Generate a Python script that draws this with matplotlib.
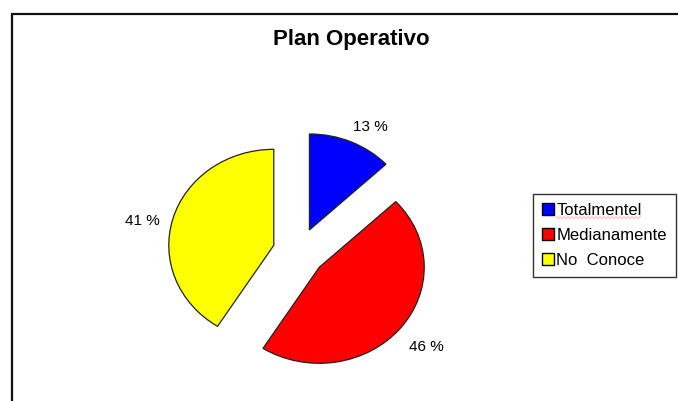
import matplotlib
matplotlib.use("Agg")
import matplotlib.pyplot as plt
import numpy as np
from matplotlib.lines import Line2D
from matplotlib.patches import Rectangle

# datos del grafico
categorias = ["Totalmentel", "Medianamente", "No  Conoce"]
porcentajes = [13, 46, 41]
etiquetas = ["13 %", "46 %", "41 %"]
colores = ["#0000ff", "#ff0000", "#ffff00"]

plt.rcParams["font.family"] = ["Liberation Sans", "DejaVu Sans"]

W, H = 678, 401
fig = plt.figure(figsize=(W / 100, H / 100), dpi=100)

# marco del grafico (solo se ven el borde izquierdo y el superior)
fig.add_artist(Rectangle((12 / W, -0.1), 1.2, 1.1 - 14 / H, transform=fig.transFigure,
                         fill=False, edgecolor="#111111", linewidth=1.6))

fig.text(351 / W, 1 - 39 / H, "Plan Operativo", ha="center", va="center",
         fontsize=16, fontweight="bold")

# ejes de la torta: el dibujo original esta estirado en horizontal
rx, ry = 105, 96          # pixeles por unidad
cx, cy = 299, 252         # centro en pixeles
lim = 1.5
ax = fig.add_axes([(cx - lim * rx) / W, (H - cy - lim * ry) / H,
                   2 * lim * rx / W, 2 * lim * ry / H])

wedges, textos = ax.pie(porcentajes, labels=etiquetas, colors=colores,
                        explode=[0.25, 0.25, 0.25], startangle=90, counterclock=False,
                        labeldistance=1.3,
                        wedgeprops=dict(edgecolor="#222222", linewidth=0.9),
                        textprops=dict(fontsize=11))
# pequeños ajustes de posicion de las etiquetas (como en Excel)
ajustes = [(0.06, -0.12), (0.02, 0.0), (0.0, -0.11)]
for t, (dx, dy) in zip(textos, ajustes):
    x, y = t.get_position()
    t.set_position((x + dx, y + dy))
    t.set_ha("center")
    t.set_va("center")
ax.set_aspect("auto")
ax.set_xlim(-lim, lim)
ax.set_ylim(-lim, lim)
ax.axis("off")

# leyenda
manejadores = [Line2D([], [], linestyle="none", marker="s", markersize=8,
                      markerfacecolor=c, markeredgecolor="black", markeredgewidth=1)
               for c in colores]
leg = fig.legend(manejadores, categorias, loc="upper left",
                 bbox_to_anchor=(533 / W, 1 - 194 / H), fontsize=12,
                 frameon=True, fancybox=False, borderpad=0.55, labelspacing=0.6,
                 handlelength=0.7, handletextpad=0.14, borderaxespad=0)
leg.get_frame().set_edgecolor("black")
leg.get_frame().set_linewidth(1.0)

# subrayado ondulado rojo del corrector ortografico bajo "Totalmentel"
fig.canvas.draw()
bb = leg.get_texts()[0].get_window_extent()
xs = np.arange(bb.x0, bb.x1, 2.0)
ys = bb.y0 + 0.5 + np.where(np.arange(len(xs)) % 2 == 0, 1.0, -1.0)
fig.add_artist(Line2D(xs / W, ys / H, transform=fig.transFigure,
                      color="#ff0000", linewidth=1.0))

fig.savefig("out.png", dpi=100)
